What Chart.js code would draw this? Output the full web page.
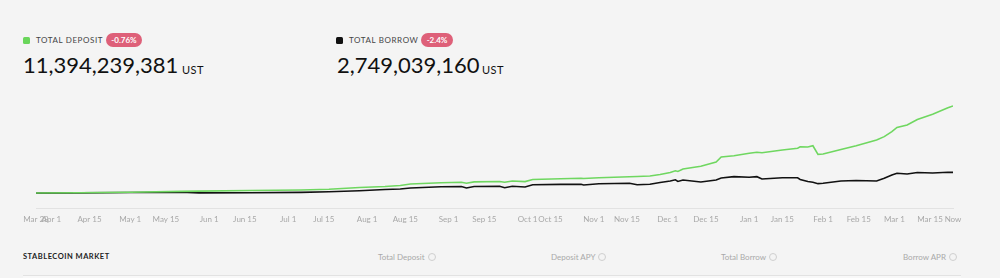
<!DOCTYPE html>
<html><head><meta charset="utf-8">
<script src="https://cdn.jsdelivr.net/npm/chart.js@4.4.0/dist/chart.umd.min.js"></script>
<style>
html,body{margin:0;padding:0;background:#f4f4f4;width:1000px;height:278px;overflow:hidden;font-family:Lato,"Open Sans",sans-serif;}
.a{position:absolute;white-space:nowrap;}
.sq{width:7px;height:7px;border-radius:1.5px;}
.lab{font-size:8px;letter-spacing:0.6px;color:#444;line-height:10px;}
.badge{background:#de6079;color:#fff;font-weight:700;border-radius:7px;height:14px;line-height:14px;font-size:8px;text-align:center;}
.num{font-size:22px;color:#111;line-height:22px;}
.unit{font-size:11px;color:#111;line-height:11px;letter-spacing:0.5px;}
.th{font-size:8px;color:#a9a9a9;line-height:10px;}
.th i{display:inline-block;width:6px;height:6px;border:1px solid #cfcfcf;border-radius:50%;margin-left:3px;vertical-align:-1px;}
.tm{font-size:7.5px;color:#222;letter-spacing:0.5px;font-weight:700;line-height:10px;}
</style>
</head><body>
<div class="a sq" style="left:23px;top:37px;background:#6ad65b"></div>
<div class="a lab" style="left:36px;top:35px">TOTAL DEPOSIT</div>
<div class="a badge" style="left:106px;top:33px;width:36px">-0.76%</div>
<div class="a num" style="left:23px;top:54px">11,394,239,381</div>
<div class="a unit" style="left:182px;top:64px">UST</div>

<div class="a sq" style="left:336px;top:37px;background:#111"></div>
<div class="a lab" style="left:349px;top:35px">TOTAL BORROW</div>
<div class="a badge" style="left:421px;top:33px;width:32px">-2.4%</div>
<div class="a num" style="left:337px;top:54px">2,749,039,160</div>
<div class="a unit" style="left:482px;top:64px">UST</div>

<div class="a" style="left:0;top:88px;width:1000px;height:142px"><canvas id="c" width="1000" height="142"></canvas></div>

<div class="a tm" style="left:23px;top:252px">STABLECOIN MARKET</div>
<div class="a th" style="left:378px;top:252px">Total Deposit<i></i></div>
<div class="a th" style="left:551px;top:252px">Deposit APY<i></i></div>
<div class="a th" style="left:721px;top:252px">Total Borrow<i></i></div>
<div class="a th" style="left:903px;top:252px">Borrow APR<i></i></div>
<div class="a" style="left:23px;top:275px;width:938px;height:3px;background:#f8f8f8;border-top:1px solid #e2e2e2"></div>

<script>
// x-axis tick labels and their record index in the series
const tickLabels = ['Mar 28','Apr 1','Apr 15','May 1','May 15','Jun 1','Jun 15','Jul 1','Jul 15','Aug 1','Aug 15','Sep 1','Sep 15','Oct 1','Oct 15','Nov 1','Nov 15','Dec 1','Dec 15','Jan 1','Jan 15','Feb 1','Feb 15','Mar 1','Mar 15','Now'];
const tickIndex = [0,6,21,37,51,68,82,99,113,130,145,162,176,193,202,219,232,248,263,280,293,309,323,337,351,360];

// sampled record indices and values (billions UST)
const recordIndex = [0,17,37,57,64,84,104,115,127,137,143,147,159,167,169,172,182,184,187,192,195,206,214,215,221,233,236,241,245,249,251,252,254,261,267,269,274,280,283,285,293,299,300,303,305,307,309,316,322,330,333,336,338,342,346,352,358,360];
const totalDeposit = [0.07,0.10,0.17,0.27,0.31,0.38,0.46,0.55,0.77,0.91,1.04,1.24,1.39,1.46,1.33,1.51,1.56,1.47,1.63,1.55,1.82,1.91,1.98,1.95,2.04,2.17,2.21,2.28,2.47,2.73,2.96,2.86,3.19,3.55,4.10,4.75,4.92,5.23,5.36,5.31,5.66,5.89,6.07,6.05,6.21,5.10,5.14,5.73,6.22,6.97,7.40,8.05,8.59,8.92,9.64,10.31,11.17,11.394];
const totalBorrow = [0.04,0.08,0.13,0.16,0.08,0.10,0.14,0.22,0.36,0.51,0.59,0.72,0.87,0.91,0.72,0.91,0.94,0.74,0.94,0.85,1.13,1.18,1.21,1.11,1.26,1.33,1.13,1.21,1.43,1.63,1.78,1.56,1.76,1.50,1.76,2.02,2.19,2.11,2.19,1.89,2.04,2.04,1.82,1.56,1.46,1.28,1.33,1.63,1.69,1.63,1.98,2.41,2.63,2.54,2.73,2.67,2.76,2.749];

const pts = vals => recordIndex.map((x, i) => ({x, y: vals[i]}));

new Chart(document.getElementById('c'), {
  type: 'line',
  data: {
    datasets: [
      {label: 'Total Deposit', data: pts(totalDeposit), borderColor: '#6fd760', borderWidth: 1.6, pointRadius: 0, tension: 0},
      {label: 'Total Borrow', data: pts(totalBorrow), borderColor: '#111111', borderWidth: 1.6, pointRadius: 0, tension: 0}
    ]
  },
  options: {
    responsive: false,
    devicePixelRatio: 1,
    animation: false,
    layout: {padding: {left: 36, right: 47, top: 10, bottom: 0}},
    plugins: {legend: {display: false}, tooltip: {enabled: false}},
    scales: {
      x: {
        type: 'linear', min: 0, max: 360,
        afterBuildTicks: s => { s.ticks = tickIndex.map(v => ({value: v})); },
        afterFit: s => { s.height = 22; },
        grid: {display: false, drawTicks: false},
        border: {display: true, color: '#e2e2e2', width: 1},
        ticks: {
          autoSkip: false, maxRotation: 0, minRotation: 0, padding: 7,
          color: '#a8a8a8', font: {family: 'Lato', size: 8},
          callback: (v, i) => tickLabels[i]
        }
      },
      y: {display: false, min: -1.89, max: 12.43}
    }
  }
});
</script>
</body></html>
